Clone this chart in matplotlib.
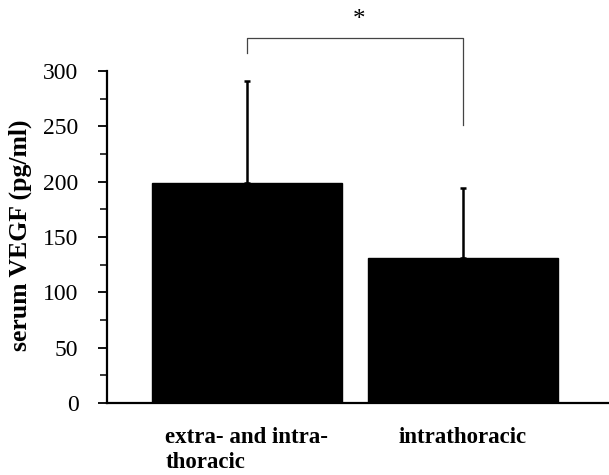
import matplotlib
matplotlib.use("Agg")
import matplotlib.pyplot as plt
import numpy as np

# -----------------------------
# Data
# -----------------------------
groups = ["extra- and intra-\nthoracic", "intrathoracic"]
means = [199, 131]
sd_upper = [92, 63]
y_ticks = [0, 50, 100, 150, 200, 250, 300]
signif_label = "*"

plt.rcParams["font.family"] = ["Liberation Serif", "DejaVu Serif"]

fig = plt.figure(figsize=(6.09, 4.75), dpi=100)
ax = fig.add_axes([107 / 609, 72 / 475, 502 / 609, 332 / 475])

x = np.arange(len(groups))
ax.bar(x, means, width=0.88, color="black", edgecolor="black", zorder=2)
ax.errorbar(x, means, yerr=[np.zeros(len(means)), sd_upper], fmt="none",
            ecolor="black", elinewidth=1.8, capsize=2.5, capthick=1.8, zorder=3)

ax.set_xlim(-0.648, 1.676)
ax.set_ylim(0, 300)

# significance bracket
top = max(m + s for m, s in zip(means, sd_upper)) + 39
ax.plot([x[0], x[0], x[1], x[1]],
        [top - 14, top, top, means[1] + sd_upper[1] + 57],
        color="#444444", lw=0.9, clip_on=False)
ax.text((x[0] + x[1]) / 2 + 0.02, top + 6, signif_label, ha="center", va="bottom",
        fontsize=18, clip_on=False)

# axes styling
for side in ["top", "right"]:
    ax.spines[side].set_visible(False)
ax.spines["left"].set_linewidth(1.6)
ax.spines["bottom"].set_linewidth(1.6)

ax.set_yticks(y_ticks)
ax.set_yticks(np.arange(25, 300, 50), minor=True)
ax.tick_params(axis="y", which="major", length=6.5, width=1.3, labelsize=17, pad=14)
ax.tick_params(axis="y", which="minor", length=5, width=1.1)

ax.set_xticks(x)
ax.set_xticklabels(groups, fontsize=16.5, fontweight="bold", multialignment="left",
                   linespacing=1.25)
ax.tick_params(axis="x", length=0, pad=17)

fig.text(20 / 609, 0.505, "serum VEGF (pg/ml)", rotation=90, ha="center", va="center",
         fontsize=18.5, fontweight="bold")

fig.savefig("out.png", dpi=100)
